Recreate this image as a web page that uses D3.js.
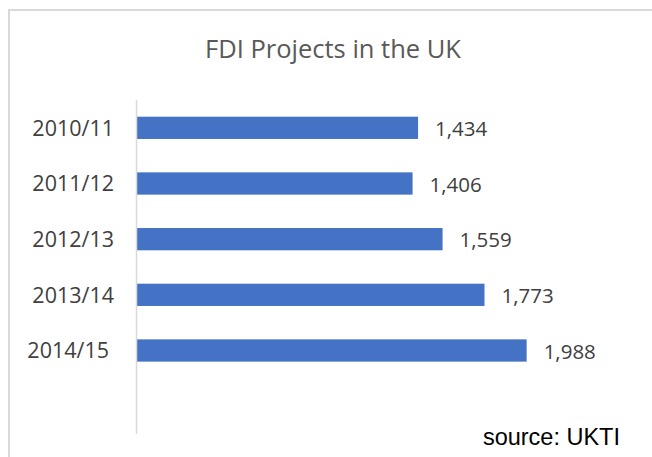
<!DOCTYPE html>
<html>
<head>
<meta charset="utf-8">
<script src="https://cdn.jsdelivr.net/npm/d3@7"></script>
<style>
  html, body { margin: 0; padding: 0; background: #fff; }
  svg { display: block; }
</style>
</head>
<body>
<script>
// FDI project counts by financial year
const categories = ["2010/11", "2011/12", "2012/13", "2013/14", "2014/15"];
const projects = [1434, 1406, 1559, 1773, 1988];
const title = "FDI Projects in the UK";
const sourceNote = "source: UKTI";

const W = 652, H = 457;
const plot = { left: 137, right: 627, top: 100, bottom: 434 };
const labelFont = "'Open Sans', 'Noto Sans', sans-serif";

const svg = d3.select("body").append("svg")
  .attr("width", W).attr("height", H);

// chart frame (top and left edges visible)
svg.append("path")
  .attr("d", `M9,${H} V10 H${W}`)
  .attr("fill", "none")
  .attr("stroke", "#d9d9d9")
  .attr("stroke-width", 2);

// title
svg.append("text")
  .attr("x", 333).attr("y", 58)
  .attr("text-anchor", "middle")
  .attr("font-family", labelFont)
  .attr("font-size", 25.5)
  .attr("font-weight", 400)
  .attr("fill", "#595959")
  .text(title);

const x = d3.scaleLinear().domain([0, 2500]).range([plot.left, plot.right]);
// five filled slots out of six in the plot area
const slot = (plot.bottom - plot.top) / 6;
const y = d3.scaleBand()
  .domain(categories)
  .range([plot.top, plot.top + slot * 5])
  .paddingInner(0.6)
  .paddingOuter(0.3);

const data = categories.map((c, i) => ({ cat: c, value: projects[i] }));

// bars
svg.append("g").selectAll("rect")
  .data(data)
  .join("rect")
  .attr("x", x(0))
  .attr("y", d => y(d.cat))
  .attr("width", d => x(d.value) - x(0))
  .attr("height", y.bandwidth())
  .attr("fill", "#4472c4");

// category axis
const yAxis = d3.axisLeft(y).tickSize(0).tickPadding(23);
const gy = svg.append("g")
  .attr("transform", `translate(${plot.left},0)`)
  .call(yAxis);
gy.select(".domain").remove();
gy.selectAll("text")
  .attr("font-family", labelFont)
  .attr("font-size", 21.5)
  .attr("fill", "#404040")
  .attr("dy", "0.36em");
// the last label sits slightly further left
gy.selectAll(".tick").filter((d, i, n) => i === n.length - 1)
  .select("text").attr("dx", -5);

svg.append("line")
  .attr("x1", plot.left - 0.5).attr("x2", plot.left - 0.5)
  .attr("y1", plot.top).attr("y2", plot.bottom)
  .attr("stroke", "#d9d9d9")
  .attr("stroke-width", 1.5);

// value labels
svg.append("g").selectAll("text")
  .data(data)
  .join("text")
  .attr("x", d => x(d.value) + 17)
  .attr("y", d => y(d.cat) + y.bandwidth() / 2)
  .attr("dy", "0.4em")
  .attr("font-family", labelFont)
  .attr("font-size", 20.5)
  .attr("fill", "#404040")
  .text(d => d3.format(",")(d.value));

// source note
svg.append("text")
  .attr("x", 620).attr("y", 445)
  .attr("text-anchor", "end")
  .attr("font-family", "'Liberation Sans', Arial, sans-serif")
  .attr("font-size", 23.5)
  .attr("fill", "#000")
  .text(sourceNote);
</script>
</body>
</html>
